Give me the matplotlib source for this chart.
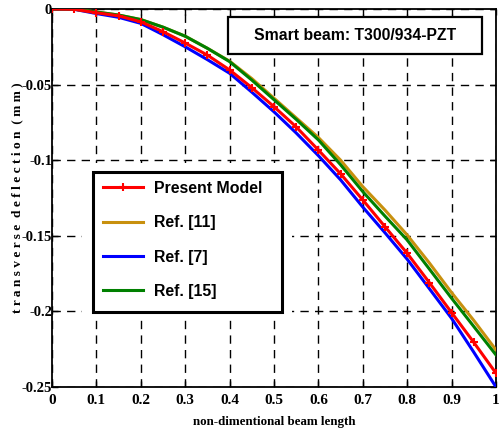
import matplotlib
matplotlib.use("Agg")
import matplotlib.pyplot as plt
from matplotlib.patches import Rectangle
import numpy as np

x = [0.0, 0.05, 0.1, 0.15, 0.2, 0.25, 0.3, 0.35, 0.4, 0.45, 0.5,
     0.55, 0.6, 0.65, 0.7, 0.75, 0.8, 0.85, 0.9, 0.95, 1.0]
present = [0, -0.0002, -0.0025, -0.0045, -0.0085, -0.015, -0.0225, -0.0305, -0.0403, -0.052, -0.0646,
           -0.078, -0.0933, -0.109, -0.1263, -0.144, -0.1616, -0.181, -0.2008, -0.2205, -0.2409]
ref11 = [0, -0.0001, -0.002, -0.004, -0.007, -0.012, -0.018, -0.026, -0.0345, -0.046, -0.059,
         -0.072, -0.085, -0.100, -0.1175, -0.133, -0.1495, -0.168, -0.1876, -0.206, -0.2255]
ref7 = [0, -0.0002, -0.003, -0.0055, -0.0095, -0.017, -0.025, -0.0335, -0.0425, -0.055, -0.068,
        -0.082, -0.097, -0.113, -0.131, -0.148, -0.1655, -0.185, -0.2046, -0.227, -0.25]
ref15 = [0, -0.0001, -0.002, -0.004, -0.007, -0.012, -0.018, -0.026, -0.0348, -0.047, -0.060,
         -0.073, -0.0866, -0.103, -0.1208, -0.137, -0.1528, -0.172, -0.1913, -0.210, -0.2288]

labels = ["Present Model", "Ref. [11]", "Ref. [7]", "Ref. [15]"]
xticks = [0, 0.1, 0.2, 0.3, 0.4, 0.5, 0.6, 0.7, 0.8, 0.9, 1.0]
xticklabels = ["0", "0.1", "0.2", "0.3", "0.4", "0.5", "0.6", "0.7", "0.8", "0.9", "1"]
yticks = [0, -0.05, -0.1, -0.15, -0.2, -0.25]
yticklabels = ["0", "-0.05", "-0.1", "-0.15", "-0.2", "-0.25"]

W, H = 500, 433
fig = plt.figure(figsize=(5, 4.33), dpi=100)
ax = fig.add_axes([52 / W, 1 - 387 / H, (496 - 52) / W, (387 - 9) / H])

serif = ["Liberation Serif", "DejaVu Serif"]
sans = ["Liberation Sans", "DejaVu Sans"]

l1, = ax.plot(x, present, color="#ff0000", lw=2.2, marker="+", ms=6, mew=1.5, zorder=5)
l2, = ax.plot(x, ref11, color="#c8900e", lw=2.2, zorder=3)
l3, = ax.plot(x, ref7, color="#0000ff", lw=2.2, zorder=4)
l4, = ax.plot(x, ref15, color="#008000", lw=2.2, zorder=4)

ax.set_xlim(0, 1)
ax.set_ylim(-0.25, 0)
ax.set_xticks(xticks)
ax.set_xticklabels(xticklabels, fontfamily=serif, fontweight="bold", fontsize=11)
ax.set_yticks(yticks)
ax.set_yticklabels(yticklabels, fontfamily=serif, fontweight="bold", fontsize=10.5)
ax.tick_params(direction="in", length=4, width=1, top=True, right=True)
ax.tick_params(axis="y", pad=0)
ax.tick_params(axis="x", pad=5)
ax.grid(True, color="black", linestyle=(0, (6, 4.5)), lw=1.0)
for s in ax.spines.values():
    s.set_linewidth(1.3)

ax.set_xlabel("non-dimentional beam length", fontfamily=serif, fontweight="bold",
              fontsize=9.4)
ax.xaxis.set_label_coords(0.5, (387 - 416) / 378)
ax.set_ylabel("t r a n s v e r s e  d e f l e c t i o n  ( m m )", fontfamily=serif,
              fontweight="bold", fontsize=9.6)
ax.yaxis.set_label_coords((23 - 52) / 444, 0.5)

def px2ax(px, py):
    return ((px - 52) / 444, (387 - py) / 378)

# white mask behind legend (hides grid)
mx0, my0 = px2ax(82, 320)
mx1, my1 = px2ax(292, 163)
ax.add_patch(Rectangle((mx0, my0), mx1 - mx0, my1 - my0, transform=ax.transAxes,
                       facecolor="white", edgecolor="none", zorder=2.5, clip_on=False))
# legend frame
fx0, fy0 = px2ax(93, 312)
fx1, fy1 = px2ax(282, 172)
ax.add_patch(Rectangle((fx0, fy0), fx1 - fx0, fy1 - fy0, transform=ax.transAxes,
                       facecolor="white", edgecolor="black", lw=2.2, zorder=5.5,
                       clip_on=False))

leg = ax.legend([l1, l2, l3, l4], labels, loc="upper left",
                bbox_to_anchor=(103 / W, 1 - 181 / H), bbox_transform=fig.transFigure,
                prop={"family": sans, "weight": "bold", "size": 11.4},
                handlelength=2.5, handletextpad=0.75, labelspacing=1.22,
                borderpad=0, borderaxespad=0, frameon=False)
leg.set_zorder(6)

fig.text(((228 + 482) / 2) / W, 1 - ((17 + 54) / 2) / H, "Smart beam: T300/934-PZT",
         ha="center", va="center", fontfamily=sans, fontweight="bold", fontsize=11.3,
         zorder=10)
fig.patches.append(Rectangle((228 / W, 1 - 54 / H), (482 - 228) / W, (54 - 17) / H,
                             transform=fig.transFigure, facecolor="white",
                             edgecolor="black", lw=1.6, zorder=9))

fig.savefig("out.png", dpi=100)
